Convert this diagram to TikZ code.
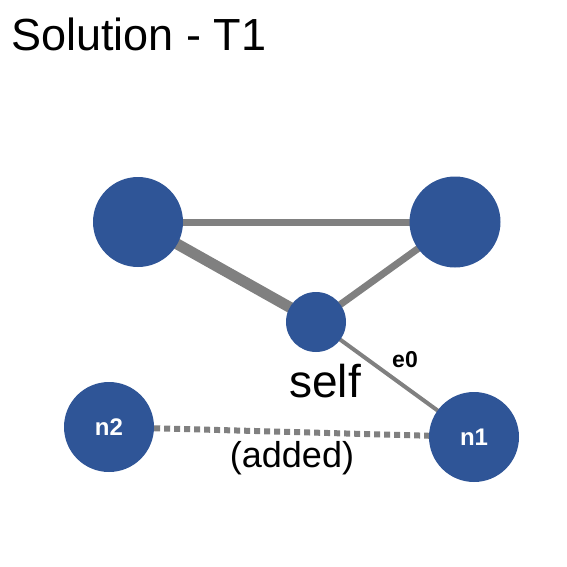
\documentclass[tikz,border=0pt]{standalone}
\usepackage{fontspec}
\setmainfont{Liberation Sans}
\usetikzlibrary{backgrounds}
\definecolor{nodeblue}{HTML}{2F5597}
\definecolor{edgegray}{HTML}{808080}
\tikzset{
  vert/.style={circle, fill=nodeblue, draw=none, inner sep=0pt, minimum size=#1},
  vlabel/.style={text=white, font=\bfseries\fontsize{24}{28}\selectfont},
  edge/.style={draw=edgegray, line width=#1},
}
\begin{document}
\begin{tikzpicture}[x=1pt,y=-1pt]
\useasboundingbox (0,0) rectangle (567,567);
\node[anchor=base west, font=\fontsize{45}{52}\selectfont, inner sep=0pt] (title) at (11,51) {Solution - T1};
\node[vert=90pt] (a) at (138,222) {};
\node[vert=91pt] (b) at (455,222) {};
\node[vert=60pt] (self) at (316,322) {};
\node[vert=90pt, vlabel] (n1) at (474,437) {n1};
\node[vert=90pt, vlabel] (n2) at (109,427) {n2};
\begin{scope}[on background layer]
\draw[edge=7pt] (a.center) -- (b.center);
\draw[edge=11pt] (a.center) -- (self.center);
\draw[edge=7pt] (b.center) -- (self.center);
\draw[edge=4pt] (self.center) -- (n1.center);
\draw[edge=6pt, dash pattern=on 6pt off 4pt] (n2) -- (n1);
\end{scope}
\node[font=\fontsize{46}{52}\selectfont, inner sep=0pt] (selflbl) at (325,381) {self};
\node[font=\bfseries\fontsize{23}{27}\selectfont, inner sep=0pt] (e0) at (405,360) {e0};
\node[font=\fontsize{36}{42}\selectfont, inner sep=0pt] (added) at (292,458) {(added)};
\end{tikzpicture}
\end{document}
